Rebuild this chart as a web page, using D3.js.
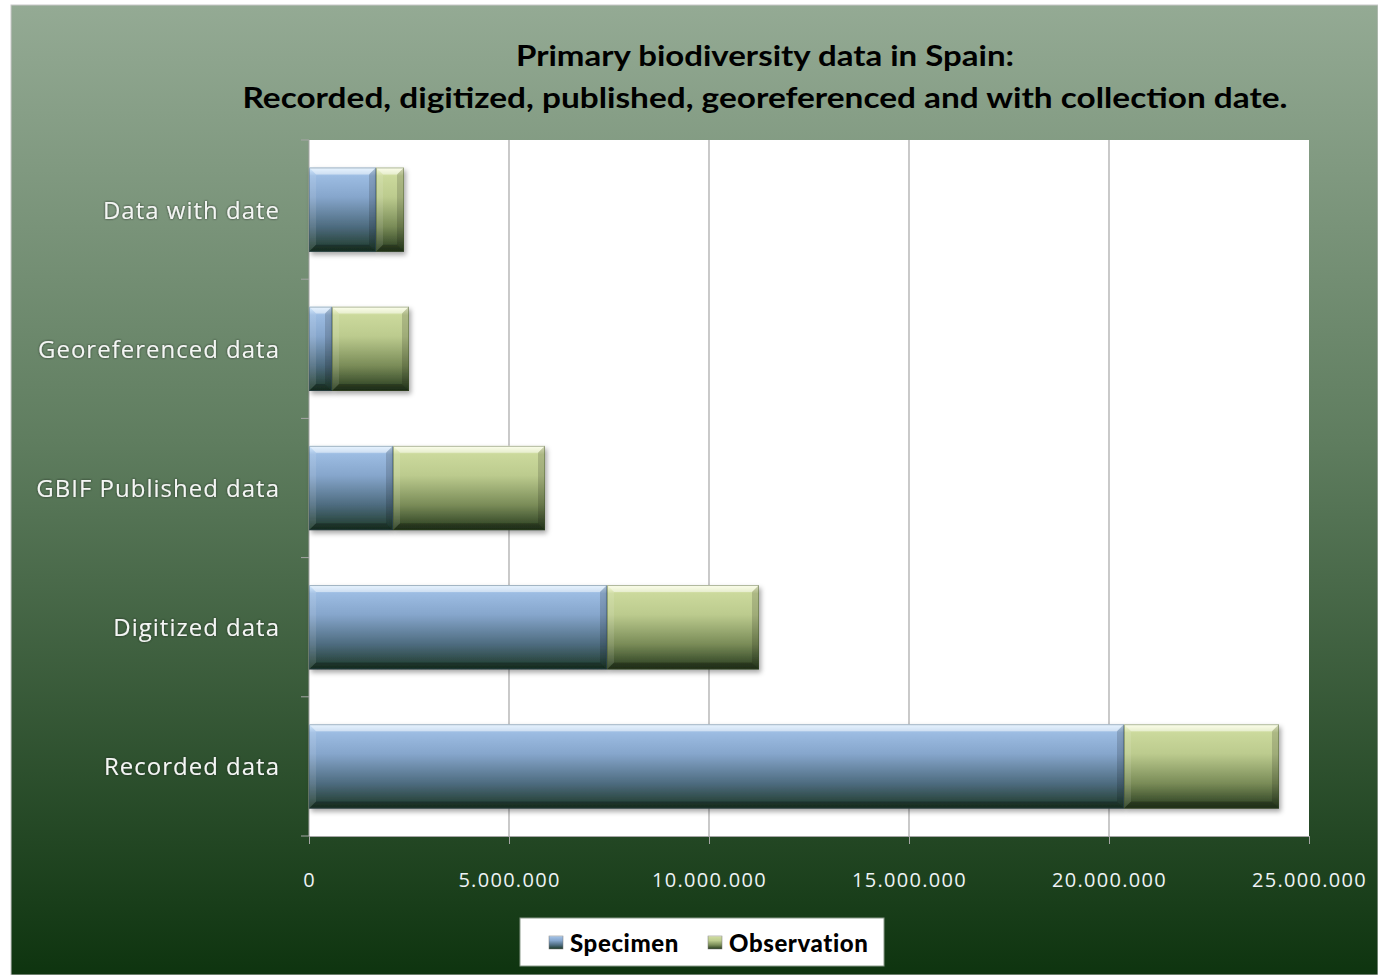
<!DOCTYPE html>
<html>
<head>
<meta charset="utf-8">
<script src="https://cdn.jsdelivr.net/npm/d3@7"></script>
<style>
  body { margin: 0; background: #fff; }
  svg { display: block; }
</style>
</head>
<body>
<script>
// chart values, top to bottom as drawn
const categories = ["Data with date", "Georeferenced data", "GBIF Published data", "Digitized data", "Recorded data"];
const specimen = [1675000, 575000, 2100000, 7450000, 20375000];
const observation = [700000, 1925000, 3800000, 3800000, 3875000];
const seriesNames = ["Specimen", "Observation"];
const xTicks = [0, 5000000, 10000000, 15000000, 20000000, 25000000];
const titleLines = ["Primary biodiversity data in Spain:", "Recorded, digitized, published, georeferenced  and with  collection date."];

const W = 1378, H = 975;
const plot = { left: 309, right: 1309, top: 140, bottom: 836 };

const svg = d3.select("body").append("svg").attr("width", W).attr("height", H);
const defs = svg.append("defs");

// background gradient of the chart area
const bg = defs.append("linearGradient").attr("id", "bgGrad").attr("x1", 0).attr("y1", 0).attr("x2", 0).attr("y2", 1);
bg.append("stop").attr("offset", "0%").attr("stop-color", "#94aa94");
bg.append("stop").attr("offset", "45%").attr("stop-color", "#5f7d5f");
bg.append("stop").attr("offset", "100%").attr("stop-color", "#0e340f");

// bar gradients
function barGrad(id, stops) {
    const g = defs.append("linearGradient").attr("id", id).attr("x1", 0).attr("y1", 0).attr("x2", 0).attr("y2", 1);
    stops.forEach(s => g.append("stop").attr("offset", s[0]).attr("stop-color", s[1]));
}
barGrad("blueGrad", [["0%", "#d6ecff"], ["10%", "#9cbce2"], ["35%", "#86a6cc"], ["70%", "#4e6c80"], ["100%", "#1c3826"]]);
barGrad("greenGrad", [["0%", "#fbffdc"], ["10%", "#cbd99c"], ["35%", "#bccb8e"], ["70%", "#7a8c58"], ["100%", "#25391d"]]);

const shadow = defs.append("filter").attr("id", "shadow").attr("x", "-5%").attr("y", "-10%").attr("width", "115%").attr("height", "130%");
shadow.append("feDropShadow").attr("dx", 2).attr("dy", 3).attr("stdDeviation", 2.5).attr("flood-color", "#000").attr("flood-opacity", 0.35);

const glow = defs.append("filter").attr("id", "glow").attr("x", "-5%").attr("y", "-20%").attr("width", "110%").attr("height", "140%");
glow.append("feDropShadow").attr("dx", 0).attr("dy", 0).attr("stdDeviation", 1).attr("flood-color", "#1a2a1a").attr("flood-opacity", 0.9);

// chart area
svg.append("rect")
    .attr("x", 11).attr("y", 5).attr("width", W - 11).attr("height", H - 5)
    .attr("fill", "url(#bgGrad)")
    .attr("stroke", "#c8c8c8").attr("stroke-width", 1);

// title
svg.selectAll(".title")
    .data(titleLines)
    .enter()
    .append("text")
    .attr("class", "title")
    .attr("x", 765)
    .attr("y", (d, i) => 66 + i * 42)
    .attr("text-anchor", "middle")
    .attr("font-family", "Lato, 'Open Sans', sans-serif")
    .attr("font-weight", "bold")
    .attr("font-size", 29)
    .attr("textLength", (d, i) => i === 0 ? 498 : 1045)
    .attr("lengthAdjust", "spacingAndGlyphs")
    .attr("fill", "#000")
    .text(d => d);

// plot area
svg.append("rect")
    .attr("x", plot.left).attr("y", plot.top)
    .attr("width", plot.right - plot.left).attr("height", plot.bottom - plot.top)
    .attr("fill", "#fff");

const x = d3.scaleLinear().domain([0, 25000000]).range([plot.left, plot.right]);
const y = d3.scaleBand().domain(categories).range([plot.top, plot.bottom]).paddingInner(0.394).paddingOuter(0.197);

// gridlines
svg.selectAll(".grid")
    .data(xTicks.slice(1, -1))
    .enter()
    .append("line")
    .attr("x1", d => x(d)).attr("x2", d => x(d))
    .attr("y1", plot.top).attr("y2", plot.bottom)
    .attr("stroke", "#a6a6a6").attr("stroke-width", 1.2);

// axes
const fmt = v => v === 0 ? "0" : d3.format(",")(v).replace(/,/g, ".");
const xAxis = svg.append("g")
    .attr("transform", `translate(0,${plot.bottom})`)
    .call(d3.axisBottom(x).tickValues(xTicks).tickSize(8).tickFormat(fmt));
xAxis.select(".domain").attr("stroke", "#a6a6a6");
xAxis.selectAll(".tick line").attr("stroke", "#a6a6a6");
xAxis.selectAll("text")
    .attr("font-family", "'Open Sans', sans-serif")
    .attr("font-size", 20)
    .attr("letter-spacing", 1.3)
    .attr("fill", "#eef3f6")
    .attr("dy", 0)
    .attr("y", 51);

// category boundaries for left ticks
const bandStep = (plot.bottom - plot.top) / categories.length;
const yBounds = d3.range(categories.length + 1).map(i => plot.top + i * bandStep);
svg.selectAll(".ytick")
    .data(yBounds)
    .enter()
    .append("line")
    .attr("x1", plot.left - 8).attr("x2", plot.left)
    .attr("y1", d => d).attr("y2", d => d)
    .attr("stroke", "#a6a6a6");
svg.append("line")
    .attr("x1", plot.left).attr("x2", plot.left)
    .attr("y1", plot.top).attr("y2", plot.bottom)
    .attr("stroke", "#a6a6a6");

svg.selectAll(".cat")
    .data(categories)
    .enter()
    .append("text")
    .attr("x", 280)
    .attr("y", d => y(d) + y.bandwidth() / 2 + 9)
    .attr("text-anchor", "end")
    .attr("font-family", "'Open Sans', sans-serif")
    .attr("font-size", 24)
    .attr("letter-spacing", 1)
    .attr("fill", "#f4f6f4")
    .attr("filter", "url(#glow)")
    .text(d => d);

// stacked bars
const rows = categories.map((c, i) => ({ cat: c, specimen: specimen[i], observation: observation[i] }));
const stack = d3.stack().keys(["specimen", "observation"])(rows);
const fills = ["url(#blueGrad)", "url(#greenGrad)"];

const bev = 7;
stack.forEach((layer, li) => {
    const g = svg.append("g").attr("filter", "url(#shadow)");
    layer.forEach(seg => {
        const x0 = x(seg[0]), x1 = x(seg[1]);
        const y0 = y(seg.data.cat), h = y.bandwidth(), y1 = y0 + h;
        const b = Math.min(bev, (x1 - x0) / 2);
        const bar = g.append("g");
        bar.append("rect")
            .attr("x", x0).attr("y", y0).attr("width", x1 - x0).attr("height", h)
            .attr("fill", fills[li]);
        // bevel edges
        bar.append("polygon")
            .attr("points", [[x0, y0], [x1, y0], [x1 - b, y0 + b], [x0 + b, y0 + b]].join(" "))
            .attr("fill", "#fff").attr("opacity", 0.45);
        bar.append("polygon")
            .attr("points", [[x0, y0], [x0 + b, y0 + b], [x0 + b, y1 - b], [x0, y1]].join(" "))
            .attr("fill", "#fff").attr("opacity", 0.1);
        bar.append("polygon")
            .attr("points", [[x1, y0], [x1, y1], [x1 - b, y1 - b], [x1 - b, y0 + b]].join(" "))
            .attr("fill", "#000").attr("opacity", 0.15);
        bar.append("polygon")
            .attr("points", [[x0, y1], [x0 + b, y1 - b], [x1 - b, y1 - b], [x1, y1]].join(" "))
            .attr("fill", "#000").attr("opacity", 0.25);
        bar.append("rect")
            .attr("x", x0 + 0.5).attr("y", y0 + 0.5).attr("width", x1 - x0 - 1).attr("height", h - 1)
            .attr("fill", "none").attr("stroke", li === 0 ? "#3a5468" : "#3e4f2a").attr("stroke-opacity", 0.4);
    });
});

// legend
const legend = svg.append("g");
legend.append("rect")
    .attr("x", 520).attr("y", 918).attr("width", 364).attr("height", 48)
    .attr("fill", "#fff").attr("stroke", "#8a9a8a");
const legX = [549, 708];
seriesNames.forEach((n, i) => {
    legend.append("rect")
        .attr("x", legX[i]).attr("y", 936).attr("width", 14).attr("height", 13)
        .attr("fill", fills[i]).attr("stroke", "#777").attr("stroke-width", 0.5);
    legend.append("text")
        .attr("x", legX[i] + 21).attr("y", 952)
        .attr("font-family", "Lato, 'Open Sans', sans-serif")
        .attr("font-weight", "900")
        .attr("font-size", 24)
        .attr("letter-spacing", 0.6)
        .attr("fill", "#000")
        .text(n);
});
</script>
</body>
</html>
